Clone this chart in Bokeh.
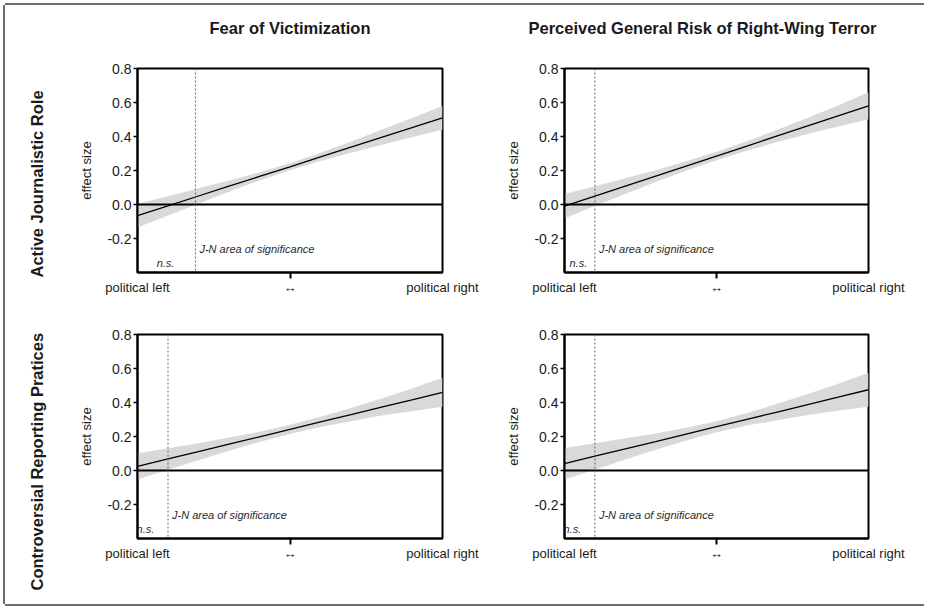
from bokeh.plotting import figure
from bokeh.models import (Range1d, FixedTicker, Span, Label, Title, NumeralTickFormatter,
                          LinearAxis, GlobalInlineStyleSheet)
from bokeh.layouts import row, column
from bokeh.embed import file_html
from bokeh.resources import INLINE

# ---------------- data ----------------
col_titles = ["Fear of Victimization", "Perceived General Risk of Right-Wing Terror"]
row_titles = ["Active Journalistic Role", "Controversial Reporting Pratices"]
x_left_label = "political left"
x_right_label = "political right"
x_mid_label = "↔"
y_label = "effect size"
jn_text = "J-N area of significance"
ns_text = "n.s."
y_ticks = [-0.2, 0.0, 0.2, 0.4, 0.6, 0.8]

moderator = [0.0, 0.1, 0.2, 0.3, 0.4, 0.5, 0.6, 0.7, 0.8, 0.9, 1.0]

# Active Journalistic Role x Fear of Victimization
est_a1 = [-0.065, -0.008, 0.050, 0.108, 0.165, 0.222, 0.280, 0.338, 0.395, 0.452, 0.510]
low_a1 = [-0.135, -0.065, 0.005, 0.075, 0.141, 0.202, 0.256, 0.305, 0.350, 0.395, 0.440]
up_a1 = [0.005, 0.049, 0.095, 0.141, 0.189, 0.242, 0.304, 0.370, 0.440, 0.509, 0.580]
jn_a1 = 0.19

# Active Journalistic Role x Perceived Risk
est_a2 = [-0.010, 0.049, 0.108, 0.167, 0.226, 0.285, 0.344, 0.403, 0.462, 0.521, 0.580]
low_a2 = [-0.082, -0.009, 0.062, 0.132, 0.198, 0.260, 0.316, 0.367, 0.414, 0.459, 0.500]
up_a2 = [0.062, 0.107, 0.154, 0.202, 0.254, 0.310, 0.372, 0.439, 0.510, 0.583, 0.660]
jn_a2 = 0.10

# Controversial Reporting x Fear of Victimization
est_c1 = [0.024, 0.068, 0.111, 0.155, 0.198, 0.242, 0.286, 0.329, 0.373, 0.416, 0.460]
low_c1 = [-0.053, 0.005, 0.061, 0.116, 0.168, 0.215, 0.256, 0.290, 0.323, 0.349, 0.375]
up_c1 = [0.101, 0.131, 0.161, 0.194, 0.228, 0.269, 0.316, 0.368, 0.423, 0.483, 0.545]
jn_c1 = 0.10

# Controversial Reporting x Perceived Risk
est_c2 = [0.040, 0.084, 0.127, 0.170, 0.214, 0.258, 0.301, 0.344, 0.388, 0.431, 0.475]
low_c2 = [-0.053, 0.005, 0.065, 0.122, 0.177, 0.225, 0.264, 0.296, 0.326, 0.351, 0.375]
up_c2 = [0.133, 0.161, 0.189, 0.218, 0.251, 0.290, 0.338, 0.392, 0.450, 0.511, 0.575]
jn_c2 = 0.10

# ---------------- styling / layout ----------------
FONT = "Liberation Sans"
TXT = "#1a1a1a"
BAND = "#d9d9d9"
FRAME_GRAY = "#6e6e6e"


def spacer_axis(size, tick):
    # invisible axis used only to reserve room between the frame and a title
    return LinearAxis(ticker=FixedTicker(ticks=[tick]), major_label_overrides={tick: ""},
                      axis_line_color=None, major_tick_in=0, major_tick_out=size,
                      major_tick_line_color=None, minor_tick_in=0, minor_tick_out=0,
                      minor_tick_line_color=None, major_label_standoff=0,
                      major_label_text_font_size="0px")


def make_panel(est, low, up, jn, ns_x, width, height, mb_left, mb_right, mb_top, mb_bottom,
               col_title=None, col_align="center", col_offset=0, col_space=0,
               row_title=None, row_offset=0, row_space=0):
    p = figure(width=width, height=height, output_backend="svg", toolbar_location=None,
               x_range=Range1d(0, 1), y_range=Range1d(-0.4, 0.8),
               min_border_left=mb_left, min_border_right=mb_right,
               min_border_top=mb_top, min_border_bottom=mb_bottom)
    p.background_fill_color = "white"
    p.border_fill_color = "white"
    p.outline_line_color = "black"
    p.outline_line_width = 2
    p.grid.visible = False

    # band + estimate
    p.varea(x=moderator, y1=low, y2=up, fill_color=BAND, fill_alpha=1.0)
    p.line(x=moderator, y=est, line_color="black", line_width=1.3)

    p.add_layout(Span(location=0, dimension="width", line_color="black", line_width=2))
    p.add_layout(Span(location=jn, dimension="height", line_color="#666666",
                      line_width=1, line_dash="2 2"))

    # y axis
    ya = p.yaxis[0]
    ya.ticker = FixedTicker(ticks=y_ticks)
    ya.formatter = NumeralTickFormatter(format="0.0")
    ya.minor_tick_line_color = None
    ya.major_tick_in = 0
    ya.major_tick_out = 4
    ya.major_tick_line_width = 1.5
    ya.axis_line_width = 2
    ya.major_label_text_font = FONT
    ya.major_label_text_font_size = "14px"
    ya.major_label_text_color = TXT
    ya.major_label_standoff = 2
    ya.axis_label = y_label
    ya.axis_label_text_font = FONT
    ya.axis_label_text_font_size = "13px"
    ya.axis_label_text_font_style = "normal"
    ya.axis_label_text_color = TXT
    ya.axis_label_standoff = 10

    # x axis: labels at the ends and middle, visible tick only in the middle
    xa = p.xaxis[0]
    xa.ticker = FixedTicker(ticks=[0, 0.5, 1], minor_ticks=[0.5])
    xa.major_label_overrides = {0: x_left_label, 0.5: x_mid_label, 1: x_right_label}
    xa.major_tick_in = 0
    xa.major_tick_out = 0
    xa.minor_tick_in = 0
    xa.minor_tick_out = 6
    xa.minor_tick_line_color = "black"
    xa.minor_tick_line_width = 2
    xa.axis_line_width = 2
    xa.major_label_text_font = FONT
    xa.major_label_text_font_size = "13px"
    xa.major_label_text_color = TXT
    xa.major_label_standoff = 1

    p.add_layout(Label(x=jn, x_offset=4, y=-0.26, text=jn_text, text_align="left",
                       text_baseline="middle", text_font=FONT, text_font_size="11px",
                       text_font_style="italic", text_color="#2a2a2a"))
    p.add_layout(Label(x=ns_x, y=-0.345, text=ns_text, text_align="center",
                       text_baseline="middle", text_font=FONT, text_font_size="11px",
                       text_font_style="italic", text_color="#2a2a2a"))

    if col_title:
        if col_space:
            p.add_layout(spacer_axis(col_space, 0.5), "above")
        p.title.text = col_title
        p.title.align = col_align
        p.title.offset = col_offset
        p.title.text_font = FONT
        p.title.text_font_size = "16.5px"
        p.title.text_font_style = "bold"
        p.title.text_color = TXT
    if row_title:
        if row_space:
            p.add_layout(spacer_axis(row_space, 0.2), "left")
        t = Title(text=row_title, align="left", offset=row_offset, text_font=FONT,
                  text_font_size="16.5px", text_font_style="bold", text_color=TXT)
        p.add_layout(t, "left")
    return p


p1 = make_panel(est_a1, low_a1, up_a1, jn_a1, 0.092, 495, 295, 132, 58, 63, 28,
                col_title=col_titles[0], col_align="center", col_space=27,
                row_title=row_titles[0], row_offset=-5, row_space=26)
p2 = make_panel(est_a2, low_a2, up_a2, jn_a2, 0.046, 424, 295, 64, 56, 63, 28,
                col_title=col_titles[1], col_align="left", col_offset=-36, col_space=27)
p3 = make_panel(est_c1, low_c1, up_c1, jn_c1, 0.026, 495, 304, 132, 58, 34, 66,
                row_title=row_titles[1], row_offset=-52, row_space=26)
p4 = make_panel(est_c2, low_c2, up_c2, jn_c2, 0.026, 424, 304, 64, 56, 34, 66)

layout = column(row(p1, p2), row(p3, p4),
                styles={"margin": "5px 0px 0px 5px",
                        "box-shadow": (f"-2px 0px 0px 0px {FRAME_GRAY}, "
                                       f"0px -2px 0px 0px {FRAME_GRAY}, "
                                       f"0px 2px 0px 0px {FRAME_GRAY}")},
                stylesheets=[GlobalInlineStyleSheet(css="html, body { overflow: hidden; }")])

open("out.html", "w").write(file_html(layout, INLINE))
